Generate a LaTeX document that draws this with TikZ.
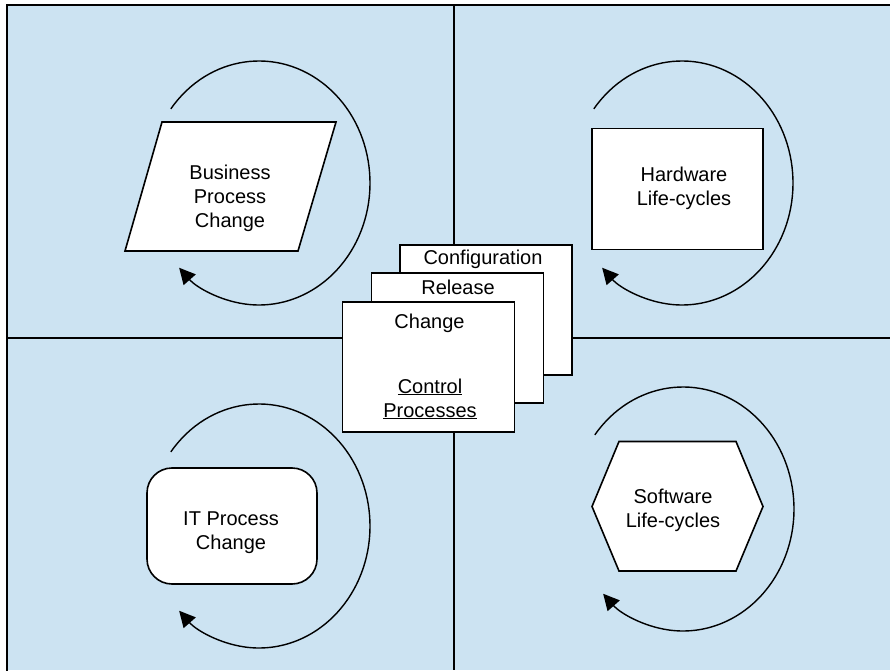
\documentclass[tikz,border=0pt]{standalone}
\usepackage{fontspec}
\setmainfont{Liberation Sans}
\usetikzlibrary{arrows.meta}
\definecolor{quadblue}{RGB}{204,227,242}
\tikzset{
  outline/.style={draw,fill=white,line width=1.6pt,inner sep=0pt},
  box/.style={outline,minimum width=172pt,minimum height=130pt},
  turn/.style={line width=1.4pt,-{Triangle[length=16pt,width=16pt]}},
  caption/.style={align=center,inner sep=0pt,font=\fontsize{20}{24}\selectfont}
}
\begin{document}
\begin{tikzpicture}[x=1pt,y=1pt]
\clip (0,0) rectangle (890,670);
\fill[quadblue] (7,0) rectangle (890,665);
\draw[line width=2.4pt] (7,-5) -- (7,665) -- (895,665);
\draw[line width=1.4pt] (454,665) -- (454,0) (7,332) -- (890,332);

\draw[outline] (162,548) -- (336,548) -- (298,419) -- (125,419) -- cycle;
\node[caption] (business) at (230,471.5) {Business\\Process\\Change};
\node[outline,minimum width=171pt,minimum height=121pt] (hw) at (677.5,481) {};
\node[caption] (hwname) at (684,482) {Hardware\\Life-cycles};
\node[outline,rounded corners=25pt,minimum width=170pt,minimum height=116pt] (itp) at (232,144) {};
\node[caption] (itpname) at (231,137.5) {IT Process\\Change};
\draw[outline] (592,163.5) -- (619,228.5) -- (736,228.5) -- (763,163.5) -- (736,99) -- (619,99) -- cycle;
\node[caption] (swname) at (673,160) {Software\\Life-cycles};

\foreach \cx/\cy in {259/487, 682/487, 259/144, 683/161}
  \draw[turn] (\cx,\cy) ++(142.6:111pt and 122pt)
    arc[start angle=142.6,end angle=-136,x radius=111pt,y radius=122pt];

\node[box] (cfg) at (486,360) {};
\node[caption,anchor=base] (cfgname) at (483,405) {Configuration};
\node[box] (rel) at (457.5,332) {};
\node[caption,anchor=base] (relname) at (458,376) {Release};
\node[box] (chg) at (428.5,303) {};
\node[caption,anchor=base] (chgname) at (429.5,342) {Change};
\node[caption,anchor=base] (ctrl) at (430,277) {\underline{Control}};
\node[caption,anchor=base] (procs) at (430,253) {\underline{Processes}};
\end{tikzpicture}
\end{document}
